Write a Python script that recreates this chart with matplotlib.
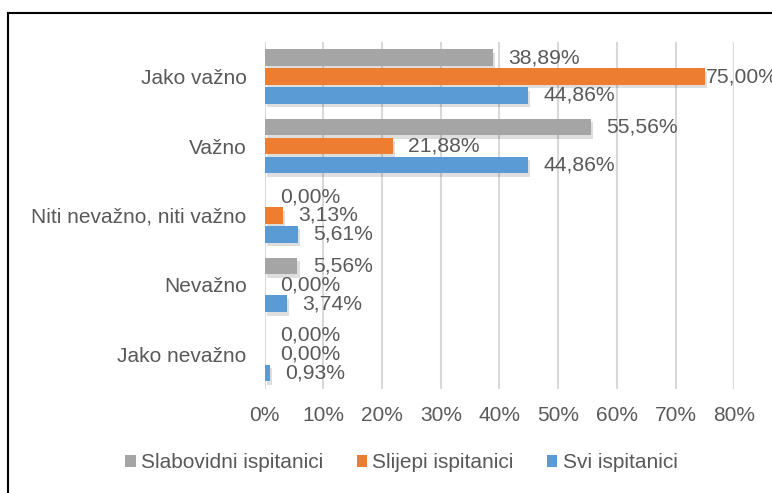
import numpy as np
import matplotlib.pyplot as plt
import matplotlib.patheffects as pe
from matplotlib.lines import Line2D
from matplotlib.patches import Patch

plt.rcParams['font.family'] = ['Liberation Sans', 'DejaVu Sans']

kategorije = ['Jako važno', 'Važno', 'Niti nevažno, niti važno', 'Nevažno', 'Jako nevažno']
serije = ['Slabovidni ispitanici', 'Slijepi ispitanici', 'Svi ispitanici']
slabovidni = [38.89, 55.56, 0.00, 5.56, 0.00]
slijepi = [75.00, 21.88, 3.13, 0.00, 0.00]
svi = [44.86, 44.86, 5.61, 3.74, 0.93]
boje = ['#a5a5a5', '#ed7d31', '#5b9bd5']
tekst_boja = '#595959'

fig = plt.figure(figsize=(7.72, 4.93), dpi=100)
ax = fig.add_axes([0.343, 0.211, 0.608, 0.704])

y = np.arange(len(kategorije))[::-1]
visina = 0.24
korak = 0.272
sjena = [pe.SimplePatchShadow(offset=(1.5, -2.5), shadow_rgbFace='black', alpha=0.13), pe.Normal()]

for i, (vrijednosti, boja) in enumerate(zip([slabovidni, slijepi, svi], boje)):
    pomak = korak * (1 - i)
    bars = ax.barh(y + pomak, vrijednosti, height=visina, color=boja, zorder=3)
    for b in bars:
        b.set_path_effects(sjena)
    for yy, v in zip(y + pomak, vrijednosti):
        txt = f'{v:.2f}%'.replace('.', ',')
        odmak = 0.5 if v > 70 else 11
        ax.annotate(txt, (v, yy), xytext=(odmak, 0), textcoords='offset points',
                    ha='left', va='center', fontsize=15.2, color=tekst_boja,
                    zorder=4, annotation_clip=False)

ax.set_xlim(0, 80)
ax.set_ylim(-0.5, 4.5)
ax.set_xticks(np.arange(0, 81, 10))
ax.set_xticklabels([f'{t}%' for t in range(0, 81, 10)])
ax.set_yticks(y)
ax.set_yticklabels(kategorije)
ax.tick_params(length=0, labelsize=15, colors=tekst_boja)
ax.tick_params(axis='y', pad=13)
ax.tick_params(axis='x', pad=12)
ax.grid(axis='x', color='#d9d9d9', linewidth=1.5, zorder=0)
for s in ax.spines.values():
    s.set_visible(False)

rucke = [Patch(facecolor=b, edgecolor='none') for b in boje]
fig.legend(rucke, serije, loc='center', bbox_to_anchor=(0.52, 0.061), ncol=3,
           frameon=False, fontsize=15, labelcolor=tekst_boja,
           handlelength=0.5, handleheight=0.5, handletextpad=0.25, columnspacing=1.6)

# okvir grafikona (vidljivi samo gornji i lijevi rub)
fig.add_artist(Line2D([8 / 772, 1], [1 - 13 / 493, 1 - 13 / 493], color='black', lw=1.5))
fig.add_artist(Line2D([8 / 772, 8 / 772], [0, 1 - 13 / 493], color='black', lw=1.5))

fig.savefig('out.png', dpi=100)
